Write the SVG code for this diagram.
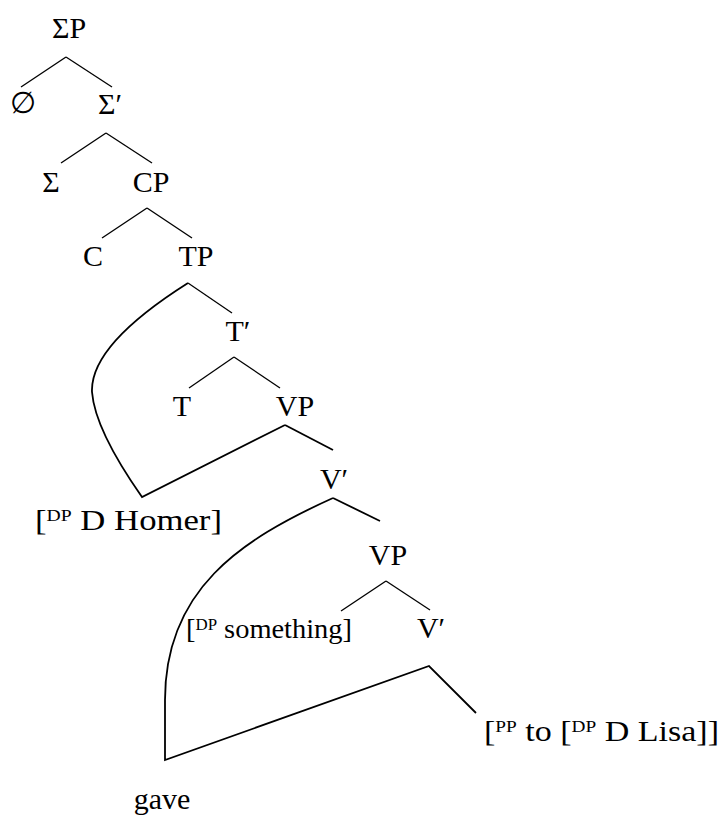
<svg xmlns="http://www.w3.org/2000/svg" width="724" height="820" viewBox="0 0 724 820">
<style>
text{font-family:'Liberation Serif',serif;font-size:30px;fill:#000}
.c{text-anchor:middle}
.sup{font-size:17px}
.br{stroke:#000;stroke-width:1.3;fill:none;stroke-linecap:butt}
.mv{stroke:#000;stroke-width:1.8;fill:none;stroke-linejoin:miter}
</style>
<rect width="724" height="820" fill="#fff"/>
<g id="connectors">
<line class="br" x1="66" y1="57" x2="21" y2="87"/>
<line class="br" x1="66" y1="57" x2="112" y2="87"/>
<line class="br" x1="106" y1="133" x2="61" y2="163"/>
<line class="br" x1="106" y1="133" x2="152" y2="163"/>
<line class="br" x1="147" y1="208" x2="102" y2="238"/>
<line class="br" x1="147" y1="208" x2="192" y2="238"/>
<line class="br" x1="188" y1="283" x2="232" y2="313"/>
<line class="br" x1="234" y1="357" x2="189" y2="388"/>
<line class="br" x1="234" y1="357" x2="280" y2="388"/>
<line class="mv" x1="285" y1="425" x2="333" y2="450"/>
<line class="mv" x1="333" y1="498" x2="380" y2="521"/>
<line class="br" x1="386" y1="581" x2="341" y2="611"/>
<line class="br" x1="386" y1="581" x2="430" y2="610"/>
<path class="mv" d="M188,283 Q90,345 92,392 Q95,430 142,497 L285,425"/>
<path class="mv" d="M333,498 C240,540 165,590 165,700 L165,760 L429,666 L476,713"/>
</g>
<g id="SigmaP"><text font-family="Liberation Serif, serif" class="c" x="69" y="38">ΣP</text></g>
<g id="empty"><text font-family="Liberation Serif, serif" class="c" x="23" y="113">∅</text></g>
<g id="SigmaBar"><text font-family="Liberation Serif, serif" class="c" x="110" y="114">Σ′</text></g>
<g id="Sigma"><text font-family="Liberation Serif, serif" class="c" x="51" y="192">Σ</text></g>
<g id="CP"><text font-family="Liberation Serif, serif" class="c" x="151" y="192">CP</text></g>
<g id="C"><text font-family="Liberation Serif, serif" class="c" x="93" y="266">C</text></g>
<g id="TP"><text font-family="Liberation Serif, serif" class="c" x="196" y="266">TP</text></g>
<g id="TBar"><text font-family="Liberation Serif, serif" class="c" x="238" y="341">T′</text></g>
<g id="T"><text font-family="Liberation Serif, serif" class="c" x="182" y="416">T</text></g>
<g id="VP1"><text font-family="Liberation Serif, serif" class="c" x="295" y="416">VP</text></g>
<g id="Homer"><text font-family="Liberation Serif, serif" x="35" y="530" textLength="187" lengthAdjust="spacingAndGlyphs">[<tspan class="sup" dy="-9">DP</tspan><tspan dy="9"> D Homer]</tspan></text></g>
<g id="VBar1"><text font-family="Liberation Serif, serif" class="c" x="334" y="489">V′</text></g>
<g id="VP2"><text font-family="Liberation Serif, serif" class="c" x="388" y="565">VP</text></g>
<g id="something"><text font-family="Liberation Serif, serif" x="186" y="638" style="font-size:27px" textLength="166" lengthAdjust="spacingAndGlyphs">[<tspan class="sup" dy="-8" style="font-size:16px">DP</tspan><tspan dy="8"> something]</tspan></text></g>
<g id="VBar2"><text font-family="Liberation Serif, serif" class="c" x="431" y="638">V′</text></g>
<g id="PP"><text font-family="Liberation Serif, serif" x="484" y="741" textLength="235" lengthAdjust="spacingAndGlyphs">[<tspan class="sup" dy="-9">PP</tspan><tspan dy="9"> to [</tspan><tspan class="sup" dy="-9">DP</tspan><tspan dy="9"> D Lisa]]</tspan></text></g>
<g id="gave"><text font-family="Liberation Serif, serif" class="c" x="162" y="809">gave</text></g>
</svg>
